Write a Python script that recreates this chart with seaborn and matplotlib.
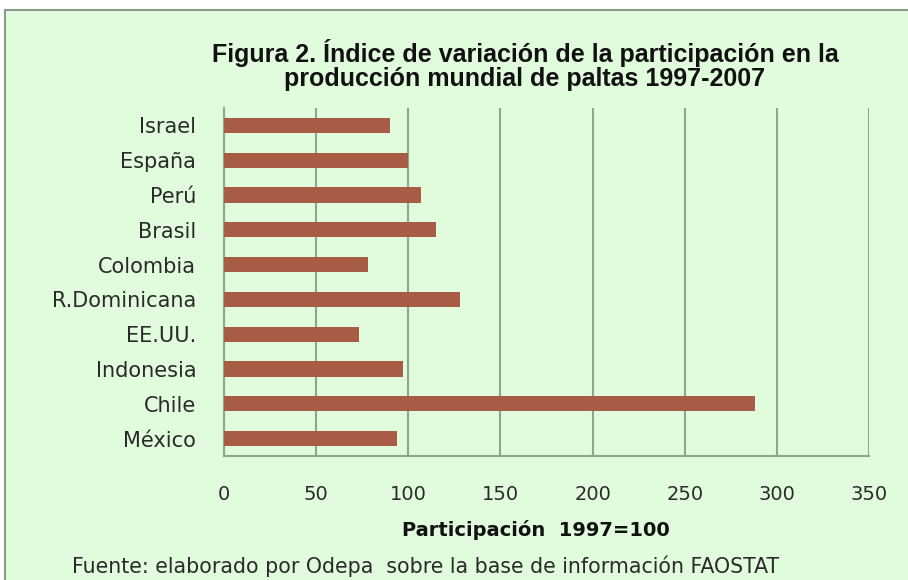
import matplotlib
matplotlib.use("Agg")
import matplotlib.pyplot as plt
import seaborn as sns
import pandas as pd
from matplotlib.patches import Rectangle

countries = ["Israel", "España", "Perú", "Brasil", "Colombia", "R.Dominicana",
             "EE.UU.", "Indonesia", "Chile", "México"]
values = [90, 100, 107, 115, 78, 128, 73, 97, 288, 94]
xticks = [0, 50, 100, 150, 200, 250, 300, 350]

title = "Figura 2. Índice de variación de la participación en la\nproducción mundial de paltas 1997-2007"
xlabel = "Participación  1997=100"
source = "Fuente: elaborado por Odepa  sobre la base de información FAOSTAT"

df = pd.DataFrame({"pais": countries, "valor": values})

sns.set_theme(style="white")
plt.rcParams["font.family"] = ["DejaVu Sans"]

bg = "#e1fcdd"
grid_c = "#8aa88a"
bar_c = "#a95c45"

fig = plt.figure(figsize=(9.08, 5.8), dpi=100)
fig.patch.set_facecolor("white")
frame = Rectangle((5 / 908, -0.01), 1.02, 1 - 10 / 580 + 0.01,
                  transform=fig.transFigure, facecolor=bg,
                  edgecolor="#8c9c8c", linewidth=1.5, zorder=-5)
fig.add_artist(frame)

ax = fig.add_axes([224 / 908, 1 - 456 / 580, (869 - 224) / 908, (456 - 108) / 580])
ax.set_zorder(2)
ax.patch.set_alpha(0)

sns.barplot(data=df, x="valor", y="pais", color=bar_c, width=0.44,
            saturation=1, linewidth=0, ax=ax, zorder=3)

ax.set_xlim(0, 350)
ax.set_xticks(xticks)
ax.set_xticklabels([str(t) for t in xticks], fontsize=14, color="#2a2a2a")
ax.tick_params(axis="x", length=0, pad=21)
ax.tick_params(axis="y", length=0, pad=20, labelsize=15, labelcolor="#2a2a2a")
ax.xaxis.grid(True, color=grid_c, linewidth=1.5, zorder=1)
ax.set_axisbelow(True)
for s in ["top", "right"]:
    ax.spines[s].set_visible(False)
for s in ["left", "bottom"]:
    ax.spines[s].set_color(grid_c)
    ax.spines[s].set_linewidth(1.5)
ax.set_ylabel("")
ax.set_xlabel("")

fig.text(536 / 908, 1 - 530 / 580, xlabel, ha="center", va="center",
         fontsize=14, fontweight="bold", color="#111111", zorder=3)
fig.text(525 / 908, 1 - 65 / 580, title, ha="center", va="center",
         fontsize=18, fontweight="bold", color="#111111",
         family=["Liberation Sans"], linespacing=1.05, zorder=3)
fig.text(72 / 908, 1 - 566 / 580, source, ha="left", va="center",
         fontsize=14.8, color="#2a2a2a", zorder=3)

fig.savefig("out.png", dpi=100, facecolor=fig.get_facecolor())
